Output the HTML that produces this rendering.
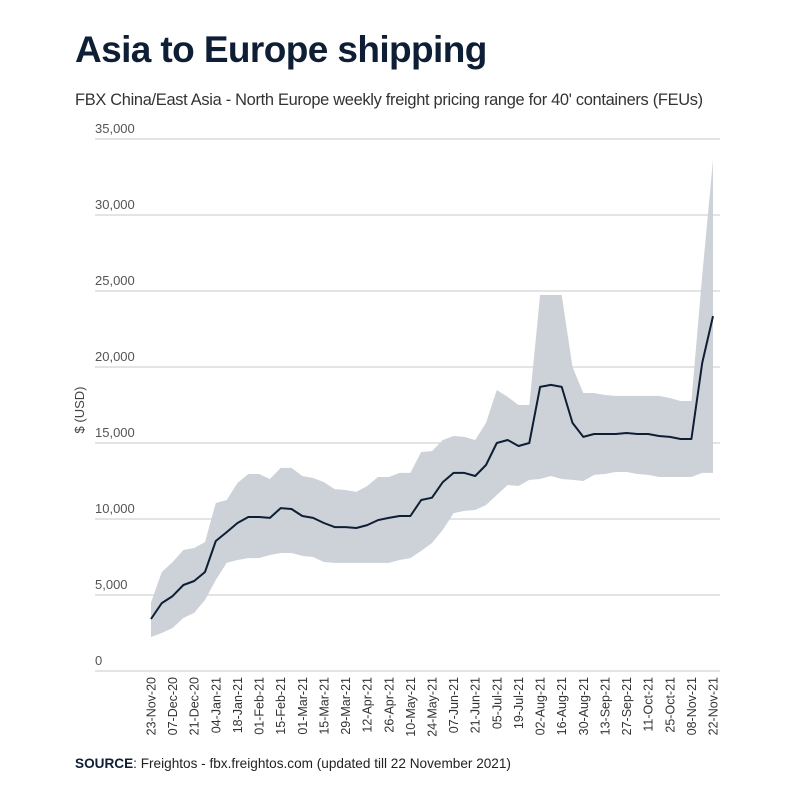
<!DOCTYPE html>
<html><head><meta charset="utf-8"><style>
body{margin:0;background:#fff;}
svg{display:block;font-family:"Liberation Sans",sans-serif;}
</style></head><body>
<svg id="chart" width="800" height="800" viewBox="0 0 800 800">
<text x="75" y="62" font-size="37" font-weight="bold" fill="#0e1e35" letter-spacing="-0.6">Asia to Europe shipping</text>
<text x="75" y="105" font-size="16.4" fill="#333" letter-spacing="-0.3">FBX China/East Asia - North Europe weekly freight pricing range for 40' containers (FEUs)</text>
<g id="grid"></g>
<path id="band" fill="#cdd2d9"></path>
<path id="line" fill="none" stroke="#0e1e35" stroke-width="2" stroke-linejoin="round"></path>
<g id="xlabels"></g>
<text transform="translate(84,410) rotate(-90)" text-anchor="middle" font-size="13" fill="#444">$ (USD)</text>
<text x="75" y="768" font-size="13.6" fill="#222"><tspan font-weight="bold" fill="#0e1e35">SOURCE</tspan>: Freightos - fbx.freightos.com (updated till 22 November 2021)</text>
</svg>
<script>
const yTicks=[0,5000,10000,15000,20000,25000,30000,35000];
const yTickLabels=["0","5,000","10,000","15,000","20,000","25,000","30,000","35,000"];
const xLabels=["23-Nov-20","07-Dec-20","21-Dec-20","04-Jan-21","18-Jan-21","01-Feb-21","15-Feb-21","01-Mar-21","15-Mar-21","29-Mar-21","12-Apr-21","26-Apr-21","10-May-21","24-May-21","07-Jun-21","21-Jun-21","05-Jul-21","19-Jul-21","02-Aug-21","16-Aug-21","30-Aug-21","13-Sep-21","27-Sep-21","11-Oct-21","25-Oct-21","08-Nov-21","22-Nov-21"];
const midPrice=[3420,4470,4930,5660,5920,6510,8550,9140,9740,10130,10130,10070,10720,10660,10200,10070,9740,9470,9470,9410,9600,9930,10070,10200,10200,11250,11400,12430,13030,13030,12830,13550,15000,15200,14800,15000,18690,18820,18690,16320,15400,15590,15590,15590,15660,15590,15590,15460,15400,15260,15260,20260,23350];
const highPrice=[4500,6510,7170,7960,8090,8490,11050,11250,12370,12960,12960,12630,13360,13360,12830,12700,12430,11970,11910,11780,12170,12760,12760,13030,13030,14410,14470,15200,15460,15400,15200,16320,18490,18030,17500,17500,24740,24740,24740,20000,18290,18290,18160,18100,18100,18100,18100,18100,17960,17760,17760,26000,33620];
const lowPrice=[2240,2500,2830,3490,3820,4670,5990,7110,7300,7430,7430,7630,7760,7760,7570,7500,7170,7110,7110,7110,7110,7110,7110,7300,7430,7900,8420,9280,10390,10530,10590,10920,11580,12240,12170,12570,12630,12830,12630,12570,12500,12900,12960,13090,13090,12960,12900,12760,12760,12760,12760,13030,13030];

const NS="http://www.w3.org/2000/svg";
const n=midPrice.length;
function xs(i){return 151+i*(713-151)/(n-1);}
function ys(v){return 671-v*(671-139)/35000;}
const grid=document.getElementById('grid');
yTicks.forEach((t,k)=>{
  const l=document.createElementNS(NS,'line');
  l.setAttribute('x1',95);l.setAttribute('x2',720);
  l.setAttribute('y1',ys(t));l.setAttribute('y2',ys(t));
  l.setAttribute('stroke','#c8c8c8');l.setAttribute('stroke-width','1');
  
  
  grid.appendChild(l);
  const tx=document.createElementNS(NS,'text');
  tx.setAttribute('x',95);tx.setAttribute('y',ys(t)-6);
  tx.setAttribute('font-size','13');tx.setAttribute('fill','#555');
  tx.textContent=yTickLabels[k];
  
  
  grid.appendChild(tx);
});
let d='';
for(let i=0;i<n;i++)d+=(i?'L':'M')+xs(i).toFixed(1)+' '+ys(highPrice[i]).toFixed(1);
for(let i=n-1;i>=0;i--)d+='L'+xs(i).toFixed(1)+' '+ys(lowPrice[i]).toFixed(1);
document.getElementById('band').setAttribute('d',d+'Z');
let m='';
for(let i=0;i<n;i++)m+=(i?'L':'M')+xs(i).toFixed(1)+' '+ys(midPrice[i]).toFixed(1);
document.getElementById('line').setAttribute('d',m);
const xl=document.getElementById('xlabels');
xLabels.forEach((s,k)=>{
  const t=document.createElementNS(NS,'text');
  const x=xs(k*2)+4.5;
  t.setAttribute('transform','translate('+x.toFixed(1)+',677) rotate(-90)');
  t.setAttribute('text-anchor','end');
  t.setAttribute('font-size','12.5');t.setAttribute('fill','#333');
  t.textContent=s;
  
  
  xl.appendChild(t);
});
</script>
</body></html>
